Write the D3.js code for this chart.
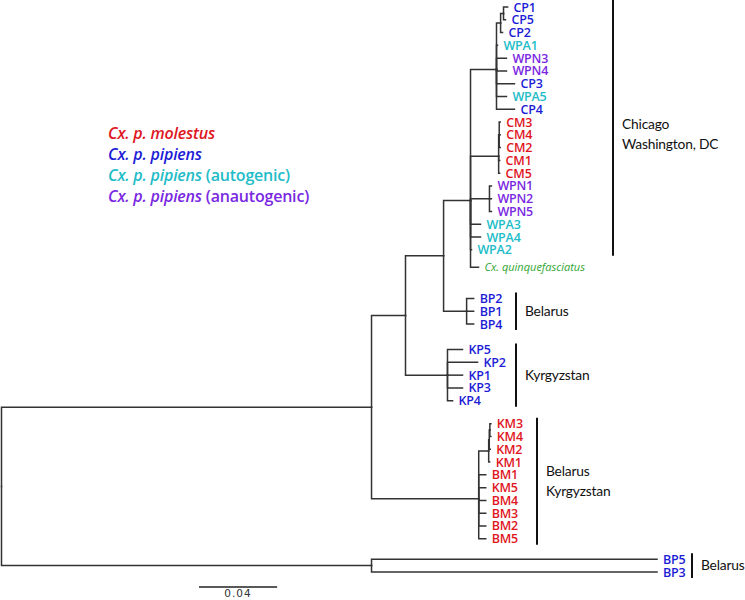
<!DOCTYPE html>
<html>
<head>
<meta charset="utf-8">
<style>
  body { margin: 0; background: #fff; }
  #tree { width: 745px; height: 600px; }
  .branch { fill: none; stroke: #333; stroke-width: 1.5px; stroke-linecap: square; }
  .tip { font-family: "Open Sans", sans-serif; font-weight: 600; font-size: 12.5px; letter-spacing: -0.2px; }
  .tip.outgroup { font-weight: 400; font-style: italic; font-size: 11px; letter-spacing: 0; }
  .region line { stroke: #111; stroke-width: 2px; }
  .region text { font-family: Lato, sans-serif; font-size: 13.8px; fill: #111; letter-spacing: -0.2px; }
  .legend text { font-family: "Open Sans", sans-serif; font-weight: 600; font-size: 16px; letter-spacing: -0.2px; }
  .scalebar line { stroke: #222; stroke-width: 1.3px; }
  .scalebar text { font-family: "DejaVu Sans", sans-serif; font-size: 10.5px; fill: #333; letter-spacing: 1px; }
</style>
</head>
<body>
<div id="tree"></div>
<script src="https://d3js.org/d3.v7.min.js"></script>
<script>
// ---- data -------------------------------------------------------------
// tree topology with branch lengths (substitutions / site)
var newick =
  "(((((" +
      "(((CP1:0.0021,CP5:0.001):0.0015,CP2:0.001):0.0021,WPA1:0.0005,WPN3:0.0051,WPN4:0.0051,CP3:0.0092,WPA5:0.0051,CP4:0.0092):0.0133," +
      "((CM3:0.0005,CM4:0.0005,CM2:0.0005):0.0003,CM1:0.0005,CM5:0.0005):0.0144," +
      "(WPN1:0.001,WPN2:0.001,WPN5:0.001):0.0097," +
      "WPA3:0.0051,WPA4:0.0051,WPA2:0.0005,Cxq:0.0041" +
    "):0.0138," +
    "(BP2:0.0036,BP1:0.0036,BP4:0.0036):0.0118" +
   "):0.0195," +
   "(KP5:0.0077,KP2:0.0154,KP1:0.0077,KP3:0.0077,KP4:0.0026):0.0215" +
  "):0.0174," +
  "((((KM3:0.0005,KM4:0.0005):0.0003,KM2:0.0005):0.0003,KM1:0.0005):0.0051," +
   "BM1:0.0036,KM5:0.0036,BM4:0.0036,BM3:0.0036,BM2:0.0036,BM5:0.0036):0.0549" +
  "):0.1895," +
  "(BP5:0.1462,BP3:0.1462):0.1895);";

// extra vertical room (in tip rows) left before these tips
var gapBefore = { Cxq: 0.35, BP2: 1.45, KP5: 1.0, KM3: 0.8, BP5: 0.6 };

var tipNames = { Cxq: "Cx. quinquefasciatus" };

var groups      = ["molestus", "pipiens", "autogenic", "anautogenic", "outgroup"];
var groupColors = ["#e0161e", "#1c1cd6", "#22bcc8", "#7a28e2", "#2fa632"];
var legendTaxa  = ["Cx. p. molestus", "Cx. p. pipiens", "Cx. p. pipiens", "Cx. p. pipiens"];
var legendNotes = ["", "", " (autogenic)", " (anautogenic)"];

var regionNames = [["Chicago", "Washington, DC"], ["Belarus"], ["Kyrgyzstan"], ["Belarus", "Kyrgyzstan"], ["Belarus"]];
var regionFirst = ["CP1", "BP2", "KP5", "KM3", "BP5"];
var regionLast  = ["WPA2", "BP4", "KP4", "BM5", "BP3"];

var scaleBarValue = 0.04;

// ---- helpers ----------------------------------------------------------
function parseNewick(s) {
  var i = 0;
  function node() {
    var nd = {};
    if (s[i] === "(") {
      i++;
      nd.children = [];
      do { nd.children.push(node()); } while (s[i] === "," && ++i);
      i++;
    }
    var name = "";
    while (i < s.length && ":,();".indexOf(s[i]) < 0) name += s[i++];
    nd.name = name;
    if (s[i] === ":") {
      i++;
      var num = "";
      while (i < s.length && ",();".indexOf(s[i]) < 0) num += s[i++];
      nd.length = +num;
    }
    return nd;
  }
  return node();
}

function groupOf(name) {
  if (name === "Cxq") return "outgroup";
  if (/^(CM|KM|BM)/.test(name)) return "molestus";
  if (/^WPA/.test(name)) return "autogenic";
  if (/^WPN/.test(name)) return "anautogenic";
  return "pipiens";
}

(function () {
  var
    width  = 745,
    height = 600,
    root   = d3.hierarchy(parseNewick(newick)),
    color  = d3.scaleOrdinal().domain(groups).range(groupColors),
    slot   = 0,
    byName = {};

  root.eachBefore(function (d) {
    d.dist = d.parent ? d.parent.dist + (d.data.length || 0) : 0;
  });

  root.leaves().forEach(function (d) {
    slot += gapBefore[d.data.name] || 0;
    d.slot = slot++;
    byName[d.data.name] = d;
  });

  var
    xScale = d3.scaleLinear()
      .domain([0, d3.max(root.leaves(), function (d) { return d.dist; })])
      .range([1.5, 657]),
    yScale = d3.scaleLinear()
      .domain([0, slot - 1])
      .range([7, 572]);

  root.eachAfter(function (d) {
    d.x = xScale(d.dist);
    d.y = d.children ? d3.mean(d.children, function (c) { return c.y; }) : yScale(d.slot);
  });

  var svg = d3.select("#tree").append("svg")
    .attr("width", width)
    .attr("height", height);

  // branches
  svg.append("g").selectAll("path")
    .data(root.links())
    .enter().append("path")
      .attr("class", "branch")
      .attr("d", function (l) {
        return "M" + l.source.x + "," + l.source.y + "V" + l.target.y + "H" + l.target.x;
      });

  // tip labels
  svg.append("g").selectAll("text")
    .data(root.leaves())
    .enter().append("text")
      .attr("class", function (d) { return "tip " + groupOf(d.data.name); })
      .attr("x", function (d) { return d.x + 6; })
      .attr("y", function (d) { return d.y; })
      .attr("dy", "0.36em")
      .attr("fill", function (d) { return color(groupOf(d.data.name)); })
      .text(function (d) { return tipNames[d.data.name] || d.data.name; });

  // region brackets
  var bracketX = [613, 516, 516, 537, 692],
      textDy   = [6, 0, 0, 0, 0];

  regionNames.forEach(function (names, k) {
    var y0 = byName[regionFirst[k]].y - 6,
        y1 = byName[regionLast[k]].y + 6,
        g  = svg.append("g").attr("class", "region");

    g.append("line")
      .attr("x1", bracketX[k]).attr("x2", bracketX[k])
      .attr("y1", k === 0 ? 0 : y0).attr("y2", y1);

    names.forEach(function (t, j) {
      g.append("text")
        .attr("x", bracketX[k] + 9)
        .attr("y", (y0 + y1) / 2 + textDy[k] + (j - (names.length - 1) / 2) * 20)
        .attr("dy", "0.35em")
        .text(t);
    });
  });

  // legend
  var legend = svg.append("g").attr("class", "legend");
  legendTaxa.forEach(function (t, k) {
    var txt = legend.append("text")
      .attr("x", 108)
      .attr("y", 133 + k * 21)
      .attr("dy", "0.35em")
      .attr("fill", color(groups[k]));
    txt.append("tspan").attr("font-style", "italic").text(t);
    if (legendNotes[k]) txt.append("tspan").text(legendNotes[k]);
  });

  // scale bar
  var sb = svg.append("g").attr("class", "scalebar"),
      sbLen = xScale(scaleBarValue) - xScale(0);
  sb.append("line")
    .attr("x1", 199).attr("x2", 199 + sbLen)
    .attr("y1", 587).attr("y2", 587);
  sb.append("text")
    .attr("x", 199 + sbLen / 2)
    .attr("y", 593)
    .attr("dy", "0.35em")
    .attr("text-anchor", "middle")
    .text(scaleBarValue);
})();
</script>
</body>
</html>
